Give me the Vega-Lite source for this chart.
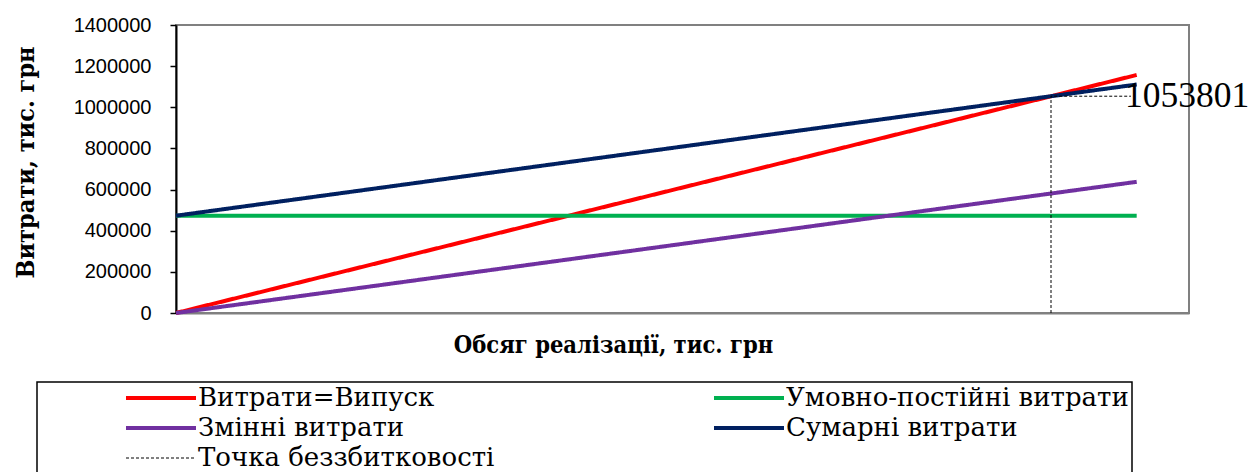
{
  "$schema": "https://vega.github.io/schema/vega-lite/v6.json",
  "width": 1013,
  "height": 288,
  "autosize": "none",
  "padding": {"left": 176, "top": 25, "right": 67, "bottom": 159},
  "background": "white",
  "config": {
    "font": "DejaVu Serif",
    "view": {"stroke": "#808080", "strokeWidth": 2},
    "axis": {"grid": false},
    "legend": {
      "orient": "none",
      "direction": "horizontal",
      "legendX": -139,
      "legendY": 357,
      "columns": 2,
      "gridAlign": "all",
      "symbolType": "stroke",
      "symbolSize": 4900,
      "symbolStrokeWidth": 4,
      "symbolOffset": 108,
      "labelOffset": 24,
      "columnPadding": 87,
      "rowPadding": 4,
      "padding": 3,
      "labelFont": "DejaVu Serif",
      "labelFontSize": 26,
      "labelColor": "black",
      "labelLimit": 600,
      "strokeColor": "black",
      "strokeWidth": 1.5
    }
  },
  "datasets": {
    "costs": [
      {"series": "Витрати=Випуск", "pt": 1, "x": 0, "y": 0},
      {"series": "Витрати=Випуск", "pt": 2, "x": 1157000, "y": 1157000},
      {"series": "Умовно-постійні витрати", "pt": 1, "x": 0, "y": 473000},
      {"series": "Умовно-постійні витрати", "pt": 2, "x": 1157000, "y": 473000},
      {"series": "Змінні витрати", "pt": 1, "x": 0, "y": 0},
      {"series": "Змінні витрати", "pt": 2, "x": 1157000, "y": 637700},
      {"series": "Сумарні витрати", "pt": 1, "x": 0, "y": 473000},
      {"series": "Сумарні витрати", "pt": 2, "x": 1157000, "y": 1110700},
      {"series": "Точка беззбитковості", "pt": 1, "x": 1053801, "y": 0},
      {"series": "Точка беззбитковості", "pt": 2, "x": 1053801, "y": 1053801},
      {"series": "Точка беззбитковості", "pt": 3, "x": 1150000, "y": 1053801}
    ],
    "breakeven": [
      {"x": 1053801, "y": 1053801}
    ]
  },
  "layer": [
    {
      "data": {"name": "costs"},
      "mark": {"type": "line"},
      "encoding": {
        "x": {
          "field": "x",
          "type": "quantitative",
          "scale": {"domain": [0, 1220000], "nice": false},
          "axis": {
            "labels": false,
            "ticks": false,
            "domainColor": "#808080",
            "domainWidth": 2,
            "title": "Обсяг реалізації, тис. грн",
            "titleFont": "'DejaVu Serif Condensed', 'DejaVu Serif', serif",
            "titleFontWeight": "bold",
            "titleFontSize": 23.5,
            "titleColor": "black",
            "titleX": 437,
            "titleY": 39,
            "titleAlign": "center",
            "titleBaseline": "alphabetic"
          }
        },
        "y": {
          "field": "y",
          "type": "quantitative",
          "scale": {"domain": [0, 1400000], "nice": false},
          "axis": {
            "values": [0, 200000, 400000, 600000, 800000, 1000000, 1200000, 1400000],
            "format": "d",
            "labelFont": "Liberation Sans",
            "labelFontSize": 20,
            "labelColor": "black",
            "labelPadding": 19,
            "domainColor": "black",
            "domainWidth": 2,
            "tickColor": "black",
            "tickWidth": 1.5,
            "tickSize": 6,
            "title": "Витрати, тис. грн",
            "titleFont": "'DejaVu Serif Condensed', 'DejaVu Serif', serif",
            "titleFontWeight": "bold",
            "titleFontSize": 25,
            "titleColor": "black",
            "titleAngle": 270,
            "titleX": -143,
            "titleY": 137,
            "titleAlign": "center",
            "titleBaseline": "alphabetic"
          }
        },
        "color": {
          "field": "series",
          "type": "nominal",
          "scale": {
            "domain": ["Витрати=Випуск", "Умовно-постійні витрати", "Змінні витрати", "Сумарні витрати", "Точка беззбитковості"],
            "range": ["#FF0000", "#00B050", "#7030A0", "#002060", "#000000"]
          },
          "legend": {
            "title": null,
            "encode": {"symbols": {"update": {"strokeWidth": {"signal": "datum.value === 'Точка беззбитковості' ? 1 : 4"}}}}
          }
        },
        "strokeDash": {
          "field": "series",
          "type": "nominal",
          "scale": {
            "domain": ["Витрати=Випуск", "Умовно-постійні витрати", "Змінні витрати", "Сумарні витрати", "Точка беззбитковості"],
            "range": [[1, 0], [1, 0], [1, 0], [1, 0], [3, 2]]
          },
          "legend": {
            "title": null,
            "encode": {"symbols": {"update": {"strokeWidth": {"signal": "datum.value === 'Точка беззбитковості' ? 1 : 4"}}}}
          }
        },
        "strokeWidth": {
          "condition": {"test": "datum.series === 'Точка беззбитковості'", "value": 1},
          "value": 4
        },
        "order": {"field": "pt", "type": "quantitative"}
      }
    },
    {
      "data": {"name": "breakeven"},
      "mark": {
        "type": "text",
        "align": "left",
        "baseline": "middle",
        "dx": 74,
        "font": "Liberation Serif",
        "fontSize": 35.5,
        "color": "black"
      },
      "encoding": {
        "x": {"field": "x", "type": "quantitative"},
        "y": {"field": "y", "type": "quantitative"},
        "text": {"field": "y", "type": "quantitative", "format": "d"}
      }
    }
  ]
}
